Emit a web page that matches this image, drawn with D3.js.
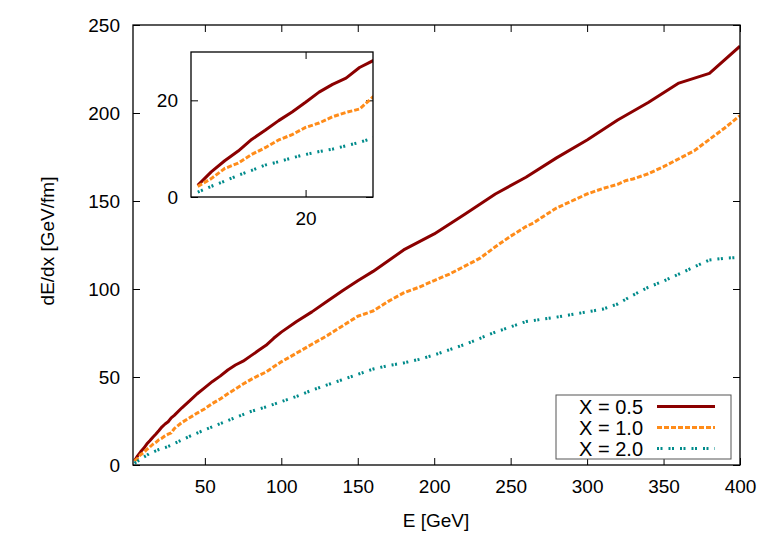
<!DOCTYPE html>
<html><head><meta charset="utf-8">
<script src="https://cdn.jsdelivr.net/npm/d3@7"></script>
<style>
html,body{margin:0;padding:0;background:#fff;}
svg{display:block;}
text{font-family:"Liberation Sans",Arial,Helvetica,sans-serif;fill:#000;}
</style></head><body>
<svg id="c" width="763" height="534"></svg>
<script>
// ---- data ----
const energyRed = [4,6,8,10,12,14,16,18,20,22,24,26,28,30,35,40,45,50,55,60,65,70,75,80,85,90,95,100,110,120,130,140,150,160,170,180,200,220,240,260,280,300,320,340,360,380,400];
const dedxRed   = [2.4,5.2,7.5,9.5,11.9,13.8,15.8,17.6,19.6,21.7,23.3,24.6,26.8,28.2,32.5,36.4,40.5,44,47.5,50.5,54,56.8,59,62,65,68,72,75.5,81.5,87,93,99,104.7,110,116,122.2,131.3,142.5,154,163.5,174.5,184.7,196,206,217,222.5,238];

const energyOrange = [4,6,8,10,12,14,16,18,20,22,24,26,28,30,35,40,45,50,55,60,65,70,75,80,85,90,95,100,110,120,130,140,150,160,170,180,190,200,210,220,230,240,250,260,265,270,280,290,300,310,320,325,330,340,350,360,370,380,390,400];
const dedxOrange   = [2.2,3.8,5.9,7.0,8.8,10.2,11.8,12.9,14.4,15.3,16.6,17.5,18.2,20.7,24.2,26.8,29.5,32.0,35.0,37.5,40.5,43.2,46.0,48.5,50.8,52.8,55.8,58.6,63.6,68.6,73.5,79.0,84.5,87.5,93.0,97.8,101.0,104.8,108.5,113.0,117.5,124.0,130.0,135.5,137.5,140.5,146.0,150.0,154.0,157.0,159.5,161.5,162.5,165.5,169.5,174.0,178.5,185.0,191.5,198.5];

const energyTeal = [4,6,8,10,12,14,16,18,20,22,24,26,28,30,40,50,60,70,80,90,100,110,120,130,140,150,160,170,180,190,200,220,240,260,280,300,310,320,330,340,350,360,370,380,390,400];
const dedxTeal   = [1.0,2.2,3.3,4.5,5.5,6.6,7.3,8.1,8.8,9.4,9.9,10.6,11.3,12.2,16.3,20,23.5,27,30.4,33,36,39,42.5,45.5,48.5,51.5,54.5,56.5,58,60,62.5,68.5,75.5,81.5,84,87,88.5,91.5,96.5,101,104.5,108.5,112.5,116.5,117.5,118];

const seriesLabels = ["X = 0.5","X = 1.0","X = 2.0"];
const xTicks = [50,100,150,200,250,300,350,400];
const yTicks = [0,50,100,150,200,250];
const insetXTicks = [20];
const insetYTicks = [0,20];

const series = [
  {label:seriesLabels[0], E:energyRed, v:dedxRed, color:"#8b0000", dash:null},
  {label:seriesLabels[1], E:energyOrange, v:dedxOrange, color:"#ff8c1a", dash:"5,2"},
  {label:seriesLabels[2], E:energyTeal, v:dedxTeal, color:"#008b8b", dash:"2,1.5,2,6"}
];

const svg = d3.select("#c");
const FS = 19;

function panel(g, x, y, xt, yt, clipId, opts){
  const [x0,x1] = x.range(), [y0,y1] = y.range();
  g.append("clipPath").attr("id",clipId).append("rect")
    .attr("x",x0).attr("y",y1).attr("width",x1-x0).attr("height",y0-y1);
  g.append("rect").attr("x",x0).attr("y",y1).attr("width",x1-x0).attr("height",y0-y1).attr("fill","#fff");
  const tl = opts.tick;
  const axL = g.append("g").attr("transform",`translate(${x0},0)`).call(d3.axisLeft(y).tickValues(yt).tickSize(-tl).tickPadding(tl+opts.padY));
  const axR = g.append("g").attr("transform",`translate(${x1},0)`).call(d3.axisRight(y).tickValues(yt).tickSize(-tl).tickFormat(""));
  const axB = g.append("g").attr("transform",`translate(0,${y0})`).call(d3.axisBottom(x).tickValues(xt).tickSize(-tl).tickPadding(tl+opts.padX));
  const axT = g.append("g").attr("transform",`translate(0,${y1})`).call(d3.axisTop(x).tickValues(xt).tickSize(-tl).tickFormat(""));
  [axL,axR,axB,axT].forEach(a=>{a.select(".domain").remove(); a.selectAll("line").attr("stroke","#000").attr("stroke-width",1);
    a.selectAll("text").attr("font-size",FS).attr("font-family","Liberation Sans, Arial, sans-serif").attr("fill","#000");});
  const plot = g.append("g").attr("clip-path",`url(#${clipId})`);
  series.forEach(s=>{
    const pts = s.E.map((e,i)=>[e,s.v[i]]);
    plot.append("path").datum(pts)
      .attr("d", d3.line().x(d=>x(d[0])).y(d=>y(d[1])))
      .attr("fill","none").attr("stroke",s.color).attr("stroke-width",3)
      .attr("stroke-linejoin","round")
      .attr("stroke-dasharray",s.dash);
  });
  g.append("rect").attr("x",x0).attr("y",y1).attr("width",x1-x0).attr("height",y0-y1)
    .attr("fill","none").attr("stroke","#000").attr("stroke-width",1.3);
}

// main
const x = d3.scaleLinear().domain([3,400]).range([133,740]);
const y = d3.scaleLinear().domain([0,250]).range([465,25]);
panel(svg.append("g"), x, y, xTicks, yTicks, "clipMain", {tick:7, padX:8, padY:6});

// axis titles
svg.append("text").attr("x",436).attr("y",527).attr("text-anchor","middle").attr("font-size",FS).text("E [GeV]");
svg.append("text").attr("transform","translate(54,241) rotate(-90)").attr("text-anchor","middle").attr("font-size",FS).text("dE/dx [GeV/fm]");

// legend
const lg = svg.append("g");
lg.append("rect").attr("x",556).attr("y",395).attr("width",175).attr("height",64)
  .attr("fill","#fff").attr("stroke","#555").attr("stroke-width",1);
series.forEach((s,i)=>{
  const cy = 406.5 + i*21;
  lg.append("text").attr("x",643).attr("y",cy).attr("dy","0.35em").attr("text-anchor","end").attr("font-size",20).text(s.label);
  lg.append("line").attr("x1",657).attr("x2",715).attr("y1",cy).attr("y2",cy)
    .attr("stroke",s.color).attr("stroke-width",3).attr("stroke-dasharray",s.dash);
});

// inset
const xi = d3.scaleLinear().domain([3,30]).range([191,373]);
const yi = d3.scaleLinear().domain([0,30]).range([197,52]);
panel(svg.append("g"), xi, yi, insetXTicks, insetYTicks, "clipInset", {tick:7, padX:8, padY:6});
</script>
</body></html>
